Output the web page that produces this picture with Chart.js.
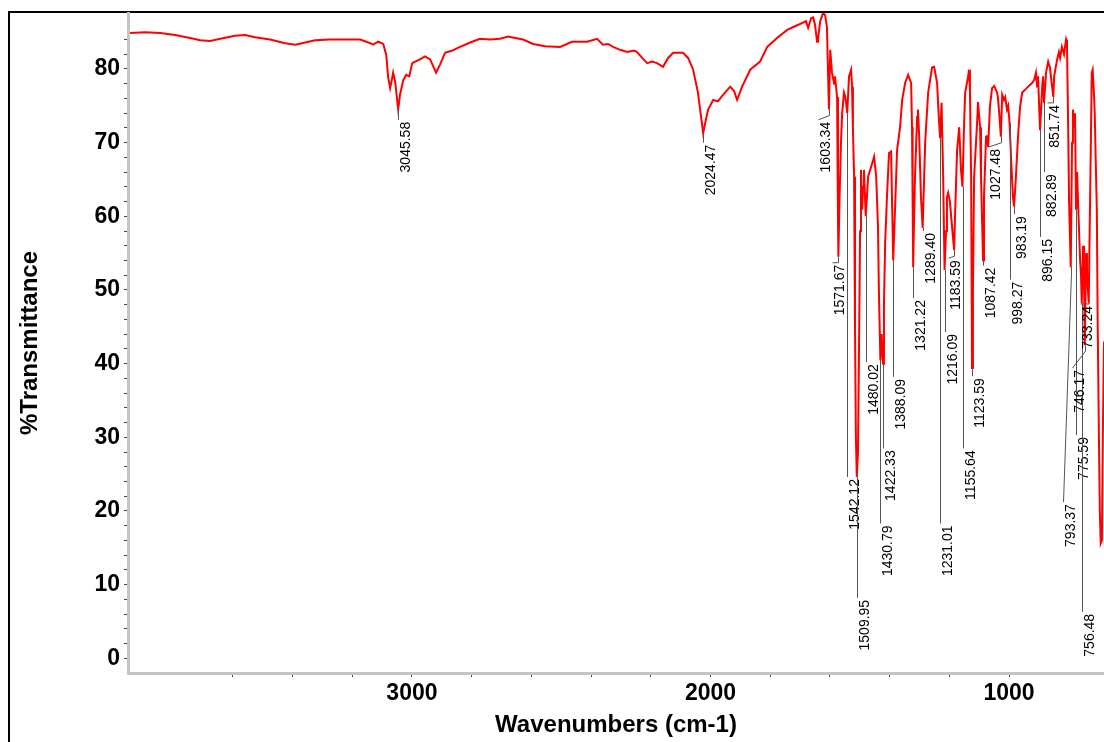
<!DOCTYPE html>
<html>
<head>
<meta charset="utf-8">
<script src="https://cdn.jsdelivr.net/npm/chart.js@4.4.1/dist/chart.umd.min.js"></script>
<style>
    html, body { margin: 0; padding: 0; background: #fff; }
    #irChart { display: block; }
</style>
</head>
<body>
<canvas id="irChart" width="1104" height="742"></canvas>
<script>
// spectrum (cm-1, %T)
var wavenumber = [3944, 3894, 3843, 3793, 3743, 3709, 3676, 3642, 3592, 3559, 3525, 3475, 3425, 3391, 3358, 3324, 3274, 3224, 3173, 3140,
    3130, 3113, 3096, 3086, 3080, 3073, 3066, 3063, 3056, 3046, 3040, 3029, 3019, 3009, 2999, 2989, 2973, 2956, 2939, 2929,
    2919, 2906, 2889, 2865, 2839, 2805, 2772, 2738, 2705, 2678, 2654, 2628, 2594, 2554, 2504, 2464, 2413, 2380, 2360, 2343,
    2326, 2303, 2279, 2256, 2246, 2229, 2212, 2196, 2179, 2159, 2142, 2125, 2092, 2075, 2058, 2042, 2024.5, 2015, 2008, 1991,
    1975, 1958, 1934, 1921, 1911, 1894, 1867, 1834, 1810, 1777, 1743, 1717, 1690, 1680, 1673, 1663, 1656, 1650, 1643, 1640,
    1633, 1623, 1616, 1610, 1603.3, 1599, 1593, 1586, 1583, 1576, 1573, 1571.7, 1568, 1563, 1559, 1553, 1549, 1546, 1542.1, 1536,
    1529, 1526, 1523, 1519, 1516, 1513, 1510, 1506, 1503, 1499, 1496, 1492, 1489, 1486, 1480, 1472, 1462, 1452, 1445, 1439,
    1436, 1431, 1427, 1422, 1419, 1415, 1409, 1402, 1395, 1391, 1388, 1382, 1375, 1365, 1358, 1348, 1338, 1328, 1325, 1323,
    1321.2, 1318, 1315, 1308, 1305, 1301, 1295, 1289.4, 1281, 1271, 1258, 1251, 1241, 1236, 1231, 1226, 1221, 1216, 1211, 1208,
    1204, 1198, 1191, 1184, 1181, 1174, 1167, 1161, 1156, 1151, 1147, 1137, 1134, 1131, 1127, 1124, 1121, 1117, 1107, 1104,
    1097, 1094, 1087, 1084, 1077, 1074, 1070, 1064, 1057, 1050, 1040, 1037, 1033, 1027.5, 1023, 1017, 1013, 1007, 1003, 998.3,
    993, 987, 983.2, 977, 970, 963, 956, 946, 936, 923, 916, 910, 906, 903, 896.2, 889, 886, 882.9, 876, 869,
    863, 856, 851.7, 849, 839, 833, 829, 823, 816, 809, 806, 802, 799, 793.4, 789, 786, 782, 779, 775.6, 772,
    769, 762, 759, 756.5, 752, 749, 746.2, 742, 739, 733.2, 730, 726, 723, 720, 716, 713, 710, 706, 703, 699,
    696, 693, 689, 686, 682];
var transmittance = [84.9, 85.0, 84.9, 84.6, 84.2, 83.9, 83.8, 84.1, 84.5, 84.6, 84.3, 84.0, 83.5, 83.3, 83.6, 83.9, 84.0, 84.0, 84.0, 83.5,
    83.3, 83.7, 83.4, 81.9, 79.0, 77.4, 78.8, 79.5, 78.2, 74.5, 76.5, 78.5, 79.2, 79.0, 80.8, 81.0, 81.3, 81.7, 81.3, 80.4,
    79.5, 80.6, 82.2, 82.5, 83.0, 83.6, 84.1, 84.0, 84.1, 84.4, 84.2, 84.0, 83.4, 83.1, 83.0, 83.7, 83.7, 84.1, 83.3, 83.4,
    83.0, 82.6, 82.3, 82.5, 82.3, 81.5, 80.8, 81.0, 80.8, 80.3, 81.5, 82.2, 82.2, 81.5, 79.9, 76.8, 71.3, 73.2, 74.5, 75.8,
    75.6, 76.5, 77.6, 77.0, 75.8, 77.6, 79.9, 81.0, 83.0, 84.2, 85.3, 85.8, 86.3, 86.5, 85.6, 86.9, 87.0, 86.0, 83.7, 84.0,
    86.4, 87.6, 87.3, 85.7, 74.5, 82.6, 79.5, 78.0, 79.0, 76.2, 60, 54.5, 62, 70.0, 74.0, 76.8, 76.3, 75.5, 74.0, 79.0,
    79.9, 77.6, 72, 65.4, 45, 30, 24.6, 28, 40, 58, 66.3, 60.9, 64, 66.3, 60.0, 65.4, 66.7, 68.1, 65.4, 58.6,
    50, 40.5, 44, 40.0, 48, 56.4, 62.6, 68.6, 68.8, 60, 54.0, 60.9, 69, 72.1, 75.8, 78.1, 79.2, 78.1, 72.1, 62,
    53.1, 60, 65.4, 73.5, 74.5, 70.8, 62.6, 58.4, 70, 76.8, 80.2, 80.3, 78.1, 74, 70.6, 75.4, 66, 52.7, 58, 62.6,
    63.2, 62, 58.6, 55.4, 60, 69, 72.1, 66.3, 64.0, 72, 76.8, 79.0, 79.9, 77, 65.4, 39.4, 50, 65.4, 72.7, 75.5,
    72.1, 65.4, 54.0, 62.6, 70.8, 71, 69.4, 74.9, 77.4, 77.7, 76.8, 76, 74, 70.8, 76.5, 75.8, 76.2, 74.5, 75, 72.7,
    67.7, 62.6, 61.3, 65.4, 70.8, 74.9, 76.8, 77.2, 77.6, 78.1, 78.5, 79.5, 77.5, 79, 71.7, 77.6, 79.0, 75.4, 79.5, 81.0,
    80.2, 77.6, 76.2, 79.0, 81.3, 82.3, 81.5, 83.0, 82, 84.0, 83.5, 72.1, 62, 53.1, 70, 74.5, 72, 74.0, 60.9, 66,
    62, 54.0, 52, 48.2, 56, 52, 42.5, 55, 52, 48.2, 58, 70, 79.5, 79.9, 77, 74, 68, 60.9, 45, 30,
    20, 15.6, 16, 30, 43];

// peak picks: position, %T at the pick, and where its staggered label sits
var peakWn = [3045.58, 2024.47, 1603.34, 1571.67, 1542.12, 1509.95, 1480.02, 1430.79, 1422.33, 1388.09,
    1321.22, 1289.40, 1231.01, 1216.09, 1183.59, 1155.64, 1123.59, 1087.42, 1027.48, 998.27,
    983.19, 896.15, 882.89, 851.74, 793.37, 775.59, 756.48, 746.17, 733.24];
var peakT = [74.5, 71.3, 74.5, 54.5, 74.0, 24.6, 60.0, 40.5, 40.0, 54.0,
    53.1, 58.4, 70.6, 52.7, 55.4, 64.0, 39.4, 54.0, 70.8, 72.7,
    61.3, 71.7, 75.4, 76.2, 53.1, 60.9, 48.2, 42.5, 48.2];
var labelWn = [3045.58, 2024.47, 1640, 1593, 1542.12, 1509.95, 1480.02, 1430.79, 1422.33, 1388.09,
    1321.22, 1289.40, 1231.01, 1216.09, 1204, 1155.64, 1123.59, 1087.42, 1070, 998.27,
    983.19, 896.15, 882.89, 873, 819, 777, 756.48, 789, 762];
var labelT = [73.1, 70.0, 73.1, 53.7, 24.6, 8.2, 40.2, 18.3, 28.5, 38.2,
    48.9, 58.0, 18.3, 44.3, 54.3, 28.5, 38.3, 53.3, 69.4, 51.4,
    60.3, 57.2, 66.0, 75.4, 21.2, 30.3, 6.3, 39.4, 48.1];

var xTickLabels = [1000, 2000, 3000];
var yTickLabels = [0, 10, 20, 30, 40, 50, 60, 70, 80];

var points = wavenumber.map(function (w, i) {
    return {x: w, y: transmittance[i]};
});

var boldFont = {family: "'Liberation Sans', Arial, sans-serif", size: 23, weight: 'bold'};
var titleFont = {family: "'Liberation Sans', Arial, sans-serif", size: 24, weight: 'bold'};

// outer black frame of the report, cut off right and bottom
var framePlugin = {
    id: 'frame',
    beforeDraw: function (chart) {
        var ctx = chart.ctx;
        ctx.save();
        ctx.fillStyle = '#ffffff';
        ctx.fillRect(0, 0, chart.width, chart.height);
        ctx.strokeStyle = '#000000';
        ctx.lineWidth = 2;
        ctx.beginPath();
        ctx.moveTo(9, chart.height);
        ctx.lineTo(9, 12);
        ctx.lineTo(chart.width, 12);
        ctx.stroke();
        ctx.restore();
    }
};

var peakLabelPlugin = {
    id: 'peakLabels',
    afterDatasetsDraw: function (chart) {
        var ctx = chart.ctx;
        var xs = chart.scales.x, ys = chart.scales.y;
        ctx.save();
        ctx.lineWidth = 1;
        ctx.strokeStyle = '#555555';
        ctx.fillStyle = '#000000';
        ctx.font = "14px 'Liberation Sans', Arial, sans-serif";
        ctx.textAlign = 'right';
        ctx.textBaseline = 'middle';
        for (var i = 0; i < peakWn.length; i++) {
            var px = Math.round(xs.getPixelForValue(peakWn[i])) + 0.5;
            var py = ys.getPixelForValue(peakT[i]);
            var ex = Math.round(xs.getPixelForValue(labelWn[i])) + 0.5;
            var ey = ys.getPixelForValue(labelT[i]);
            ctx.beginPath();
            ctx.moveTo(px, py);
            if (Math.abs(ex - px) > 1) {
                var ky = Math.min(py + 6, ey);
                ctx.lineTo(px, ky);
            }
            ctx.lineTo(ex, ey);
            ctx.stroke();
            ctx.save();
            ctx.translate(ex + 8, ey + 2);
            ctx.rotate(-Math.PI / 2);
            ctx.fillText(peakWn[i].toFixed(2), 0, 0);
            ctx.restore();
        }
        ctx.restore();
    }
};

var ctx = document.getElementById('irChart');
var irChart = new Chart(ctx, {
    type: 'line',
    data: {
        datasets: [{
            data: points,
            borderColor: '#ff0000',
            borderWidth: 2,
            pointRadius: 0,
            tension: 0,
            fill: false
        }]
    },
    options: {
        responsive: false,
        animation: false,
        events: [],
        layout: {padding: {top: 13, right: 0, bottom: 0, left: 0}},
        plugins: {
            legend: {display: false},
            tooltip: {enabled: false}
        },
        scales: {
            x: {
                type: 'linear',
                reverse: true,
                min: 682,
                max: 3951,
                afterBuildTicks: function (scale) {
                    scale.ticks = scale.ticks.filter(function (t) { return t.value % 200 === 0; });
                },
                afterFit: function (scale) {
                    scale.height = 69;
                    scale.paddingLeft = 0;
                    scale.paddingRight = 0;
                },
                ticks: {
                    stepSize: 200,
                    autoSkip: false,
                    maxRotation: 0,
                    padding: 3,
                    color: '#000000',
                    font: boldFont,
                    callback: function (v) {
                        return xTickLabels.indexOf(v) >= 0 ? String(v) : '';
                    }
                },
                grid: {
                    drawOnChartArea: false,
                    tickLength: 4,
                    tickColor: '#444444',
                    tickWidth: 1
                },
                border: {color: '#c4c4c4', width: 3},
                title: {
                    display: true,
                    text: 'Wavenumbers (cm-1)',
                    color: '#000000',
                    font: titleFont,
                    padding: {top: 0, bottom: 2.6}
                }
            },
            y: {
                min: -2,
                max: 87.6,
                afterBuildTicks: function (scale) {
                    scale.ticks = scale.ticks.filter(function (t) {
                        return t.value >= 0 && Math.abs(t.value % 2) < 1e-6;
                    });
                },
                afterFit: function (scale) {
                    scale.width = 128;
                    scale.paddingTop = 0;
                    scale.paddingBottom = 0;
                },
                ticks: {
                    stepSize: 2,
                    autoSkip: false,
                    padding: 4,
                    color: '#000000',
                    font: boldFont,
                    callback: function (v) {
                        return yTickLabels.indexOf(v) >= 0 ? String(v) : '';
                    }
                },
                grid: {
                    drawOnChartArea: false,
                    tickLength: 4,
                    tickColor: '#444444',
                    tickWidth: 1
                },
                border: {color: '#c4c4c4', width: 3},
                title: {
                    display: true,
                    text: '%Transmittance',
                    color: '#000000',
                    font: titleFont,
                    padding: {top: 15.6, bottom: 0}
                }
            }
        }
    },
    plugins: [framePlugin, peakLabelPlugin]
});
</script>
</body>
</html>
